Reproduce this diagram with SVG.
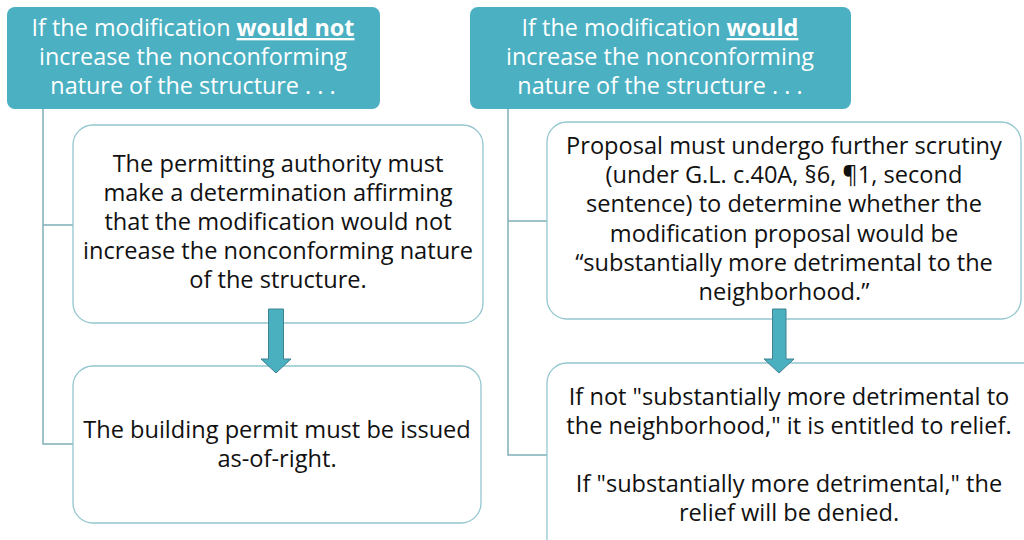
<svg xmlns="http://www.w3.org/2000/svg" width="1024" height="540" viewBox="0 0 1024 540">
  <style>
    .hdr { fill: #4AB0C2; }
    .box { fill: #ffffff; stroke: #93C6CF; stroke-width: 1.3; }
    .link { fill: none; stroke: #7FAEB5; stroke-width: 1.5; }
    .arrow { fill: #4AAFBF; stroke: #3F8290; stroke-width: 1; }
    text { font-family: "Open Sans", "Noto Sans", "Liberation Sans", sans-serif; text-anchor: middle; }
    .ht { fill: #ffffff; font-size: 23.4px; }
    .bt { fill: #111111; font-size: 23.6px; }
    .em { font-weight: bold; text-decoration: underline; }
  </style>
  <rect width="1024" height="540" fill="#ffffff"/>

  <!-- tree lines -->
  <g id="connectors">
    <path class="link" d="M43 109 V444 H73 M43 225 H73"/>
    <path class="link" d="M508 109 V455 H547 M508 221 H547"/>
  </g>

  <!-- left column -->
  <g id="hdr-left">
    <rect class="hdr" x="7" y="7" width="373" height="102" rx="8"/>
    <text class="ht" x="193" y="36">If the modification <tspan class="em">would not</tspan></text>
    <text class="ht" x="193" y="65">increase the nonconforming</text>
    <text class="ht" x="193" y="94">nature of the structure . . .</text>
  </g>
  <g id="determination">
    <rect class="box" x="73" y="125" width="410" height="198" rx="20"/>
    <text class="bt" x="278" y="172">The permitting authority must</text>
    <text class="bt" x="278" y="201">make a determination affirming</text>
    <text class="bt" x="278" y="230">that the modification would not</text>
    <text class="bt" x="278" y="259">increase the nonconforming nature</text>
    <text class="bt" x="278" y="288">of the structure.</text>
  </g>
  <g id="permit">
    <rect class="box" x="73" y="366" width="408" height="157" rx="20"/>
    <text class="bt" x="277" y="438">The building permit must be issued</text>
    <text class="bt" x="277" y="467">as-of-right.</text>
  </g>

  <!-- right column -->
  <g id="hdr-right">
    <rect class="hdr" x="470" y="7" width="381" height="102" rx="8"/>
    <text class="ht" x="660" y="36">If the modification <tspan class="em">would</tspan></text>
    <text class="ht" x="660" y="65">increase the nonconforming</text>
    <text class="ht" x="660" y="94">nature of the structure . . .</text>
  </g>
  <g id="scrutiny">
    <rect class="box" x="547" y="122" width="474" height="197" rx="20"/>
    <text class="bt" x="784" y="154">Proposal must undergo further scrutiny</text>
    <text class="bt" x="784" y="183">(under G.L. c.40A, §6, ¶1, second</text>
    <text class="bt" x="784" y="212">sentence) to determine whether the</text>
    <text class="bt" x="784" y="242">modification proposal would be</text>
    <text class="bt" x="784" y="271">“substantially more detrimental to the</text>
    <text class="bt" x="784" y="300">neighborhood.”</text>
  </g>
  <g id="relief">
    <rect class="box" x="547" y="363" width="500" height="200" rx="20"/>
    <text class="bt" x="789" y="405">If not "substantially more detrimental to</text>
    <text class="bt" x="789" y="434">the neighborhood," it is entitled to relief.</text>
    <text class="bt" x="789" y="492">If "substantially more detrimental," the</text>
    <text class="bt" x="789" y="521">relief will be denied.</text>
  </g>

  <!-- block arrows between steps, drawn over the box edges -->
  <g id="flow-arrows">
    <path class="arrow" d="M268.5 309 H283.5 V359 H291 L276 373 L261 359 H268.5 Z"/>
    <path class="arrow" d="M772.5 309 H786 V359 H794 L779 373 L764 359 H772.5 Z"/>
  </g>
</svg>
